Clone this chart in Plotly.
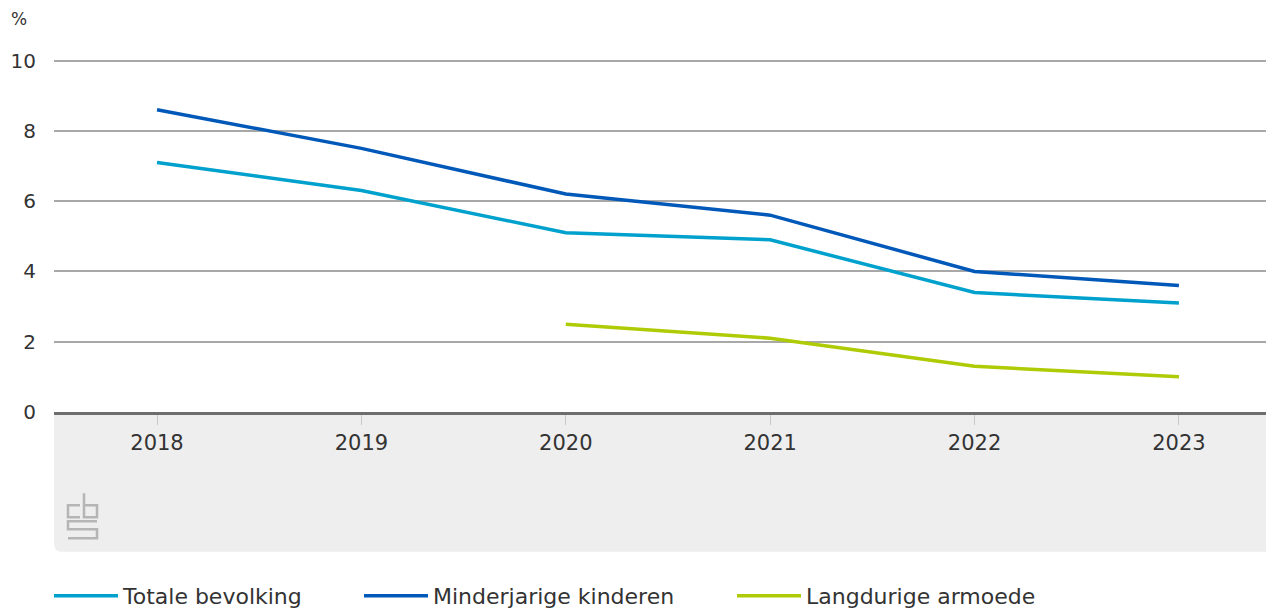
import plotly.graph_objects as go

years = [2018, 2019, 2020, 2021, 2022, 2023]
totale = [7.1, 6.3, 5.1, 4.9, 3.4, 3.1]
minderjarig = [8.6, 7.5, 6.2, 5.6, 4.0, 3.6]
langdurig_years = [2020, 2021, 2022, 2023]
langdurig = [2.5, 2.1, 1.3, 1.0]
y_ticks = [0, 2, 4, 6, 8, 10]

# the capture compresses the page vertically by ~609/617, so lay out in a 617px tall page
S = 617 / 609
W, H = 1266, 617
YMAX = 10.1
L, PW = 54, 1212
T, PH = 57, 360
R = W - L - PW
B = H - T - PH
FONT = "DejaVu Sans"


def px(x):
    return (x - L) / PW


def py(y):
    return (T + PH - y * S) / PH


fig = go.Figure()
fig.add_trace(go.Scatter(x=years, y=totale, mode="lines", name="Totale bevolking",
                         line=dict(color="#00a1cd", width=3.5), legend="legend"))
fig.add_trace(go.Scatter(x=years, y=minderjarig, mode="lines", name="Minderjarige kinderen",
                         line=dict(color="#0058b8", width=3.5), legend="legend2"))
fig.add_trace(go.Scatter(x=langdurig_years, y=langdurig, mode="lines", name="Langdurige armoede",
                         line=dict(color="#afcb05", width=3.5), legend="legend3"))

shapes = []
r_x, r_y = 8 / PW, 8 / PH
yb = py(551.5)
shapes.append(dict(type="path", xref="paper", yref="paper", layer="below",
                   path=f"M 0,0 L 1,0 L 1,{yb} L {r_x},{yb} Q 0,{yb} 0,{yb + r_y} Z",
                   fillcolor="#eeeeee", line=dict(width=0)))
logo_paths = [
    [(80, 505), (68, 505), (68, 517), (80, 517)],
    [(84, 493), (84, 517), (97, 517), (97, 505), (84, 505)],
    [(97, 521), (68, 521), (68, 529), (97, 529), (97, 538), (68, 538)],
]
for pts in logo_paths:
    p = "M " + " L ".join(f"{px(x)},{py(y)}" for x, y in pts)
    shapes.append(dict(type="path", xref="paper", yref="paper", path=p,
                       line=dict(color="#b5b5b5", width=2.5)))


def leg(xpage):
    return dict(orientation="h", x=px(xpage - 5), xanchor="left", y=py(596), yanchor="middle",
                font=dict(size=22, color="#333333", family=FONT), itemwidth=64,
                bgcolor="rgba(0,0,0,0)")


fig.update_layout(
    width=W, height=H,
    margin=dict(l=L, r=R, t=T, b=B, pad=0),
    paper_bgcolor="white", plot_bgcolor="white",
    font=dict(family=FONT, color="#333333", size=21),
    showlegend=True,
    legend=leg(54), legend2=leg(364), legend3=leg(737),
    shapes=shapes,
    annotations=[dict(text="%", xref="paper", yref="paper", x=px(9), y=py(18),
                      xanchor="left", yanchor="middle", showarrow=False,
                      font=dict(size=17, color="#333333", family=FONT))],
)
fig.update_xaxes(range=[2017.496, 2023.426], tickvals=years, ticktext=[str(y) for y in years],
                 showgrid=False, zeroline=False, showline=True, linecolor="#6e6e6e", linewidth=3,
                 ticks="outside", ticklen=10, tickcolor="#c8c8c8", tickwidth=1,
                 tickfont=dict(size=21, color="#333333", family=FONT))
fig.update_yaxes(range=[0, YMAX], tickvals=y_ticks, showgrid=True, gridcolor="#a8a8a8", gridwidth=1.5,
                 zeroline=False, showline=False, ticks="", ticklabelstandoff=17,
                 tickfont=dict(size=20, color="#333333", family=FONT))

post = (
    "document.documentElement.style.margin='0';"
    "document.body.style.margin='0';document.body.style.padding='0';"
)
fig.write_html("out.html", config={"displayModeBar": False}, post_script=post)
